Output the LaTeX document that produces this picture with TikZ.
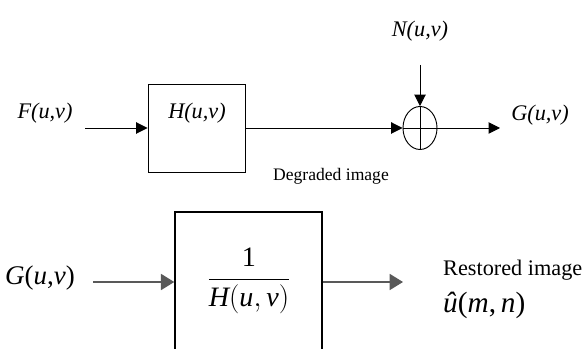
\documentclass[tikz,border=0pt]{standalone}
\usepackage{amsmath}
\usepackage{fontspec}
\setmainfont{Liberation Serif}
\usepackage{tikz}
\usetikzlibrary{arrows.meta, shapes.geometric}

\begin{document}
\begin{tikzpicture}[
  x=0.03cm, y=-0.03cm,
  >={Triangle[length=3.4mm, width=3.4mm]},
  lab/.style={font=\fontsize{19}{22}\selectfont\itshape, inner sep=0pt},
  biglab/.style={font=\fontsize{23}{27}\selectfont, inner sep=0pt},
  blk/.style={draw, thick, inner sep=0pt},
  sig/.style={->, thick},
  sigb/.style={-{Triangle[length=4mm, width=4.8mm]}, line width=1.5pt, black!65}
]
\clip (0,0) rectangle (587,349);
% degradation model
\node[lab] (F) at (45,113) {F(u,v)};
\coordinate (fin) at (85,128);
\node[blk, minimum width=2.91cm, minimum height=2.64cm] (H) at (196.5,128) {};
\node[lab] (Hl) at (197,113) {H(u,v)};
\node[blk, ellipse, minimum width=1.02cm, minimum height=1.29cm] (sum) at (420,128) {};
\draw[thin] (sum.north) -- (sum.south);
\draw[thin] (sum.west) -- (sum.east);
\node[lab] (N) at (420,31) {N(u,v)};
\coordinate (ntop) at (420,65);
\coordinate (gout) at (500,128);
\node[lab] (G) at (540,115) {G(u,v)};
\node[font=\fontsize{15}{17}\selectfont, inner sep=0pt] (deg) at (331,176) {Degraded image};
\draw[sig] (fin) -- (H.west);
\draw[sig] (H.east) -- (sum.west);
\draw[sig] (ntop) -- (sum.north);
\draw[sig] (sum.east) -- (gout);
% restoration
\node[biglab] (G2) at (40,278) {\textit{G}(\textit{u},\textit{v})};
\coordinate (gin) at (93,282);
\node[draw, line width=1.2pt, minimum width=4.41cm, minimum height=5.04cm] (R) at (248.5,296) {};
\node[font=\fontsize{24}{28}\selectfont, inner sep=0pt] (frac) at (249,281) {$\dfrac{\text{1}}{\textit{H}(\textit{u},\textit{v})}$};
\coordinate (rout) at (403,282);
\node[font=\fontsize{19}{23}\selectfont, inner sep=0pt, anchor=west] (rest) at (443,270) {Restored image};
\node[font=\fontsize{25}{29}\selectfont, inner sep=0pt, anchor=west] (uhat) at (443,305) {\textit{û}(\textit{m},\,\textit{n})};
\draw[sigb] (gin) -- (gin -| R.west);
\draw[sigb] (gin -| R.east) -- (rout);
\end{tikzpicture}
\end{document}
